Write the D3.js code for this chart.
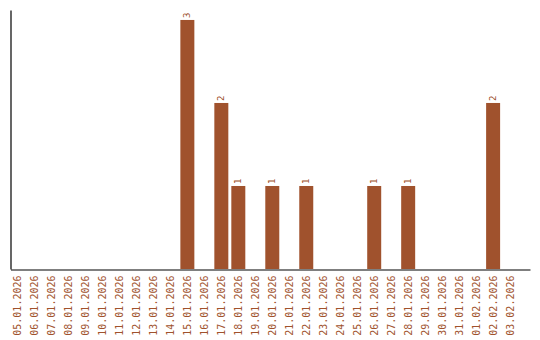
<!DOCTYPE html>
<html>
<head>
<meta charset="utf-8">
<script src="https://cdn.jsdelivr.net/npm/d3@7"></script>
<style>
  body { margin: 0; background: #fff; }
  text { font-family: "DejaVu Sans Mono", monospace; }
</style>
</head>
<body>
<div id="chart"></div>
<script>
// data
const dates = [
  "05.01.2026", "06.01.2026", "07.01.2026", "08.01.2026", "09.01.2026",
  "10.01.2026", "11.01.2026", "12.01.2026", "13.01.2026", "14.01.2026",
  "15.01.2026", "16.01.2026", "17.01.2026", "18.01.2026", "19.01.2026",
  "20.01.2026", "21.01.2026", "22.01.2026", "23.01.2026", "24.01.2026",
  "25.01.2026", "26.01.2026", "27.01.2026", "28.01.2026", "29.01.2026",
  "30.01.2026", "31.01.2026", "01.02.2026", "02.02.2026", "03.02.2026"
];
const counts = [
  0, 0, 0, 0, 0,
  0, 0, 0, 0, 0,
  3, 0, 2, 1, 0,
  1, 0, 1, 0, 0,
  0, 1, 0, 1, 0,
  0, 0, 0, 2, 0
];

const barColor = "#a0522d";
const width = 540, height = 340;
const margin = { top: 10, right: 10, bottom: 71, left: 10.5 };

const data = dates.map((d, i) => ({ date: d, value: counts[i] }));

const svg = d3.select("#chart")
  .append("svg")
  .attr("width", width)
  .attr("height", height);

const x = d3.scaleBand()
  .domain(dates)
  .range([margin.left, width - margin.right])
  .paddingInner(3 / 17)
  .paddingOuter(0.38)
  .align(0);

const y = d3.scaleLinear()
  .domain([0, d3.max(counts) * 1.04])
  .range([height - margin.bottom, margin.top]);

// bars
svg.append("g")
  .selectAll("rect")
  .data(data.filter(d => d.value > 0))
  .join("rect")
  .attr("x", d => x(d.date))
  .attr("y", d => y(d.value))
  .attr("width", x.bandwidth())
  .attr("height", d => y(0) - y(d.value))
  .attr("fill", barColor);

// value labels on top of bars
svg.append("g")
  .selectAll("text")
  .data(data.filter(d => d.value > 0))
  .join("text")
  .attr("transform", d => `translate(${x(d.date) + x.bandwidth() / 2 + 3},${y(d.value) - 2}) rotate(-90)`)
  .attr("font-size", 9)
  .attr("fill", barColor)
  .text(d => d.value);

// x axis
const xAxis = svg.append("g")
  .attr("transform", `translate(0,${y(0) + 0.5})`)
  .call(d3.axisBottom(x).tickSize(0).tickSizeOuter(0));
xAxis.select(".domain").attr("stroke", "#000").attr("stroke-width", 1.2);
xAxis.selectAll(".tick text")
  .attr("font-size", 10)
  .attr("font-family", "DejaVu Sans Mono, monospace")
  .attr("fill", barColor)
  .attr("text-anchor", "end")
  .attr("dy", "0.35em")
  .attr("transform", "translate(0,6) rotate(-90)")
  .attr("x", 0)
  .attr("y", 0);

// y axis (line only)
const yAxis = svg.append("g")
  .attr("transform", `translate(${margin.left},0)`)
  .call(d3.axisLeft(y).ticks(0).tickSize(0).tickSizeOuter(0));
yAxis.select(".domain").attr("stroke", "#000").attr("stroke-width", 1.2);
yAxis.selectAll(".tick").remove();
</script>
</body>
</html>
